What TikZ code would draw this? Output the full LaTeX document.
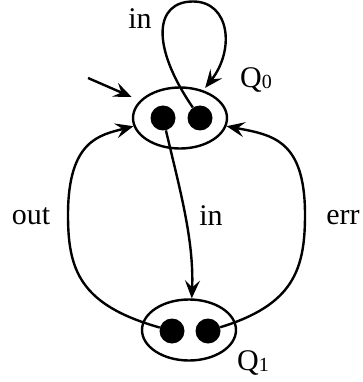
\documentclass[tikz,border=0pt]{standalone}
\usepackage{fontspec}
\setmainfont{Liberation Serif}
\usetikzlibrary{shapes.geometric,arrows.meta}
\begin{document}
\begin{tikzpicture}[x=1pt,y=-1pt,
  state/.style={ellipse,draw,line width=2.4pt,minimum width=94pt,minimum height=61pt,inner sep=0pt},
  token/.style={circle,fill=black,minimum size=25pt,inner sep=0pt},
  edge/.style={line width=2.4pt,-{Stealth[length=18pt,width=15pt,inset=7pt]}},
  lbl/.style={font=\fontsize{30}{32}\selectfont,inner sep=0pt,anchor=base},
  qlbl/.style={font=\fontsize{30}{32}\selectfont,inner sep=0pt,anchor=base west}]
\useasboundingbox (0,0) rectangle (362,382);
\node[state] (q0) at (180,118) {};
\node[state] (q1) at (189,330) {};
\node[token] (a0) at (163,118) {};
\node[token] (b0) at (200,118) {};
\node[token] (a1) at (172,331) {};
\node[token] (b1) at (208,331) {};
\coordinate (init) at (88,78);
\coordinate (looptop) at (193,1.5);
\coordinate (outmid) at (68,215);
\coordinate (errmid) at (305,215);
% initial arrow
\draw[edge,shorten >=9pt] (init) -- (q0);
% self loop
\draw[edge,shorten >=3pt] (b0) .. controls (150,45) and (155,1.5) .. (looptop)
  .. controls (230,1.5) and (235,50) .. (q0.50);
% in: q0 -> q1
\draw[edge] (a0) .. controls (180,190) and (194,240) .. (q1.85);
% out: q1 -> q0
\draw[edge] (a1) .. controls (80,305) and (68,270) .. (outmid)
  .. controls (68,140) and (100,135) .. (q0.190);
% err: q1 -> q0
\draw[edge] (b1) .. controls (293,305) and (305,270) .. (errmid)
  .. controls (305,140) and (273,135) .. (q0.-10);
% labels
\node[lbl] (lin0) at (140,29) {in};
\node[lbl] (lout) at (31,224) {out};
\node[lbl] (lin1) at (211,225) {in};
\node[lbl] (lerr) at (343,224) {err};
\node[qlbl] (lq0) at (240,88) {Q\raisebox{-1pt}{\fontsize{20}{20}\selectfont 0}};
\node[qlbl] (lq1) at (237,370) {Q\raisebox{-1pt}{\fontsize{20}{20}\selectfont 1}};
\end{tikzpicture}
\end{document}
